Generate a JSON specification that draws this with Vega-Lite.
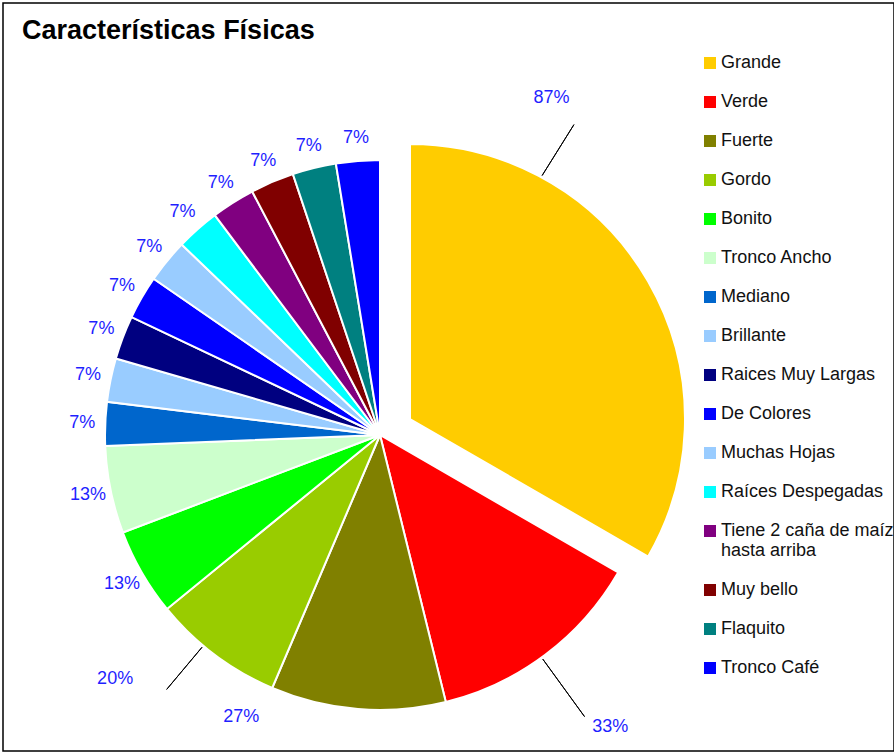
{
  "$schema": "https://vega.github.io/schema/vega-lite/v6.json",
  "autosize": {"type": "none"},
  "padding": {"left": 3, "top": 3, "right": 0, "bottom": 2},
  "width": 891,
  "height": 748,
  "background": "white",
  "view": {"stroke": "black", "strokeWidth": 1.5, "fill": "white"},
  "title": {
    "text": "Características Físicas",
    "anchor": "start",
    "frame": "group",
    "dx": 19,
    "offset": -42,
    "fontSize": 27,
    "font": "Liberation Sans",
    "fontWeight": "bold",
    "color": "black"
  },
  "config": {
    "legend": {
      "orient": "none",
      "legendX": 698,
      "legendY": 51,
      "padding": 0,
      "symbolType": "square",
      "symbolSize": 144,
      "symbolStrokeWidth": 0,
      "labelFontSize": 18,
      "labelFont": "Liberation Sans",
      "labelColor": "#111111",
      "rowPadding": 21,
      "labelOffset": 2,
      "labelLimit": 300
    }
  },
  "data": {
    "values": [
      {"name": "Grande", "n": 13, "pct": "87%"},
      {"name": "Verde", "n": 5, "pct": "33%"},
      {"name": "Fuerte", "n": 4, "pct": "27%"},
      {"name": "Gordo", "n": 3, "pct": "20%"},
      {"name": "Bonito", "n": 2, "pct": "13%"},
      {"name": "Tronco Ancho", "n": 2, "pct": "13%"},
      {"name": "Mediano", "n": 1, "pct": "7%"},
      {"name": "Brillante", "n": 1, "pct": "7%"},
      {"name": "Raices Muy Largas", "n": 1, "pct": "7%"},
      {"name": "De Colores", "n": 1, "pct": "7%"},
      {"name": "Muchas Hojas", "n": 1, "pct": "7%"},
      {"name": "Raíces Despegadas", "n": 1, "pct": "7%"},
      {"name": "Tiene 2 caña de maíz hasta arriba", "n": 1, "pct": "7%"},
      {"name": "Muy bello", "n": 1, "pct": "7%"},
      {"name": "Flaquito", "n": 1, "pct": "7%"},
      {"name": "Tronco Café", "n": 1, "pct": "7%"}
    ]
  },
  "transform": [
    {"stack": "n", "groupby": [], "as": ["v0", "v1"]}
  ],
  "layer": [
    {
      "transform": [{"filter": "datum.name != 'Grande'"}],
      "mark": {"type": "arc", "outerRadius": 275, "stroke": "white", "strokeWidth": 2, "xOffset": -68.5, "yOffset": 58},
      "encoding": {
        "theta": {"field": "v0", "type": "quantitative", "stack": null, "scale": {"domain": [0, 39], "range": [0, 6.283185307]}},
        "theta2": {"field": "v1"},
        "color": {
          "field": "name",
          "type": "nominal",
          "sort": null,
          "title": null,
          "scale": {
            "domain": ["Grande", "Verde", "Fuerte", "Gordo", "Bonito", "Tronco Ancho", "Mediano", "Brillante", "Raices Muy Largas", "De Colores", "Muchas Hojas", "Raíces Despegadas", "Tiene 2 caña de maíz hasta arriba", "Muy bello", "Flaquito", "Tronco Café"],
            "range": ["#FFCC00", "#FF0000", "#808000", "#99CC00", "#00FF00", "#CCFFCC", "#0066CC", "#99CCFF", "#000080", "#0000FF", "#99CCFF", "#00FFFF", "#800080", "#800000", "#008080", "#0000FF"]
          },
          "legend": {
            "labelExpr": "datum.label == 'Tiene 2 caña de maíz hasta arriba' ? ['Tiene 2 caña de maíz', 'hasta arriba'] : datum.label"
          }
        }
      }
    },
    {
      "transform": [{"filter": "datum.name == 'Grande'"}],
      "mark": {"type": "arc", "outerRadius": 275, "stroke": "white", "strokeWidth": 2, "xOffset": -38.5, "yOffset": 42},
      "encoding": {
        "theta": {"field": "v0", "type": "quantitative", "stack": null},
        "theta2": {"field": "v1"},
        "color": {"field": "name", "type": "nominal", "sort": null}
      }
    },
    {
      "transform": [{"filter": "datum.n == 1"}],
      "mark": {"type": "text", "radius": 298, "thetaOffset": 0.0806, "xOffset": -68.5, "yOffset": 58, "fontSize": 18, "font": "Liberation Sans", "fill": "#1f1fff"},
      "encoding": {
        "theta": {"field": "v0", "type": "quantitative", "stack": null},
        "text": {"field": "pct"}
      }
    },
    {
      "transform": [{"filter": "datum.n == 2"}],
      "mark": {"type": "text", "radius": 298, "thetaOffset": 0.1611, "xOffset": -68.5, "yOffset": 58, "fontSize": 18, "font": "Liberation Sans", "fill": "#1f1fff"},
      "encoding": {
        "theta": {"field": "v0", "type": "quantitative", "stack": null},
        "text": {"field": "pct"}
      }
    },
    {
      "transform": [{"filter": "datum.name == 'Grande'"}],
      "mark": {"type": "text", "radius": 378, "thetaOffset": 0.471, "xOffset": -68.5, "yOffset": 58, "fontSize": 18, "font": "Liberation Sans", "fill": "#1f1fff"},
      "encoding": {
        "theta": {"field": "v0", "type": "quantitative", "stack": null},
        "text": {"field": "pct"}
      }
    },
    {
      "transform": [{"filter": "datum.name == 'Verde'"}],
      "mark": {"type": "text", "radius": 372, "thetaOffset": 0.380, "xOffset": -68.5, "yOffset": 58, "fontSize": 18, "font": "Liberation Sans", "fill": "#1f1fff"},
      "encoding": {
        "theta": {"field": "v0", "type": "quantitative", "stack": null},
        "text": {"field": "pct"}
      }
    },
    {
      "transform": [{"filter": "datum.name == 'Fuerte'"}],
      "mark": {"type": "text", "radius": 314, "thetaOffset": 0.699, "xOffset": -68.5, "yOffset": 58, "fontSize": 18, "font": "Liberation Sans", "fill": "#1f1fff"},
      "encoding": {
        "theta": {"field": "v0", "type": "quantitative", "stack": null},
        "text": {"field": "pct"}
      }
    },
    {
      "transform": [{"filter": "datum.name == 'Gordo'"}],
      "mark": {"type": "text", "radius": 360, "thetaOffset": 0.424, "xOffset": -68.5, "yOffset": 58, "fontSize": 18, "font": "Liberation Sans", "fill": "#1f1fff"},
      "encoding": {
        "theta": {"field": "v0", "type": "quantitative", "stack": null},
        "text": {"field": "pct"}
      }
    },
    {
      "transform": [{"filter": "datum.name == 'Grande'"}],
      "mark": {"type": "arc", "innerRadius": 306, "outerRadius": 366, "thetaOffset": 0.5585, "theta2Offset": 0.5585, "xOffset": -68.5, "yOffset": 58, "fill": "transparent", "stroke": "black", "strokeWidth": 1},
      "encoding": {
        "theta": {"field": "v0", "type": "quantitative", "stack": null},
        "theta2": {"field": "v0"}
      }
    },
    {
      "transform": [{"filter": "datum.name == 'Verde'"}],
      "mark": {"type": "arc", "innerRadius": 277, "outerRadius": 348, "thetaOffset": 0.419, "theta2Offset": 0.419, "xOffset": -68.5, "yOffset": 58, "fill": "transparent", "stroke": "black", "strokeWidth": 1},
      "encoding": {
        "theta": {"field": "v0", "type": "quantitative", "stack": null},
        "theta2": {"field": "v0"}
      }
    },
    {
      "transform": [{"filter": "datum.name == 'Gordo'"}],
      "mark": {"type": "arc", "innerRadius": 277, "outerRadius": 332, "thetaOffset": 0.295, "theta2Offset": 0.295, "xOffset": -68.5, "yOffset": 58, "fill": "transparent", "stroke": "black", "strokeWidth": 1},
      "encoding": {
        "theta": {"field": "v0", "type": "quantitative", "stack": null},
        "theta2": {"field": "v0"}
      }
    }
  ]
}
